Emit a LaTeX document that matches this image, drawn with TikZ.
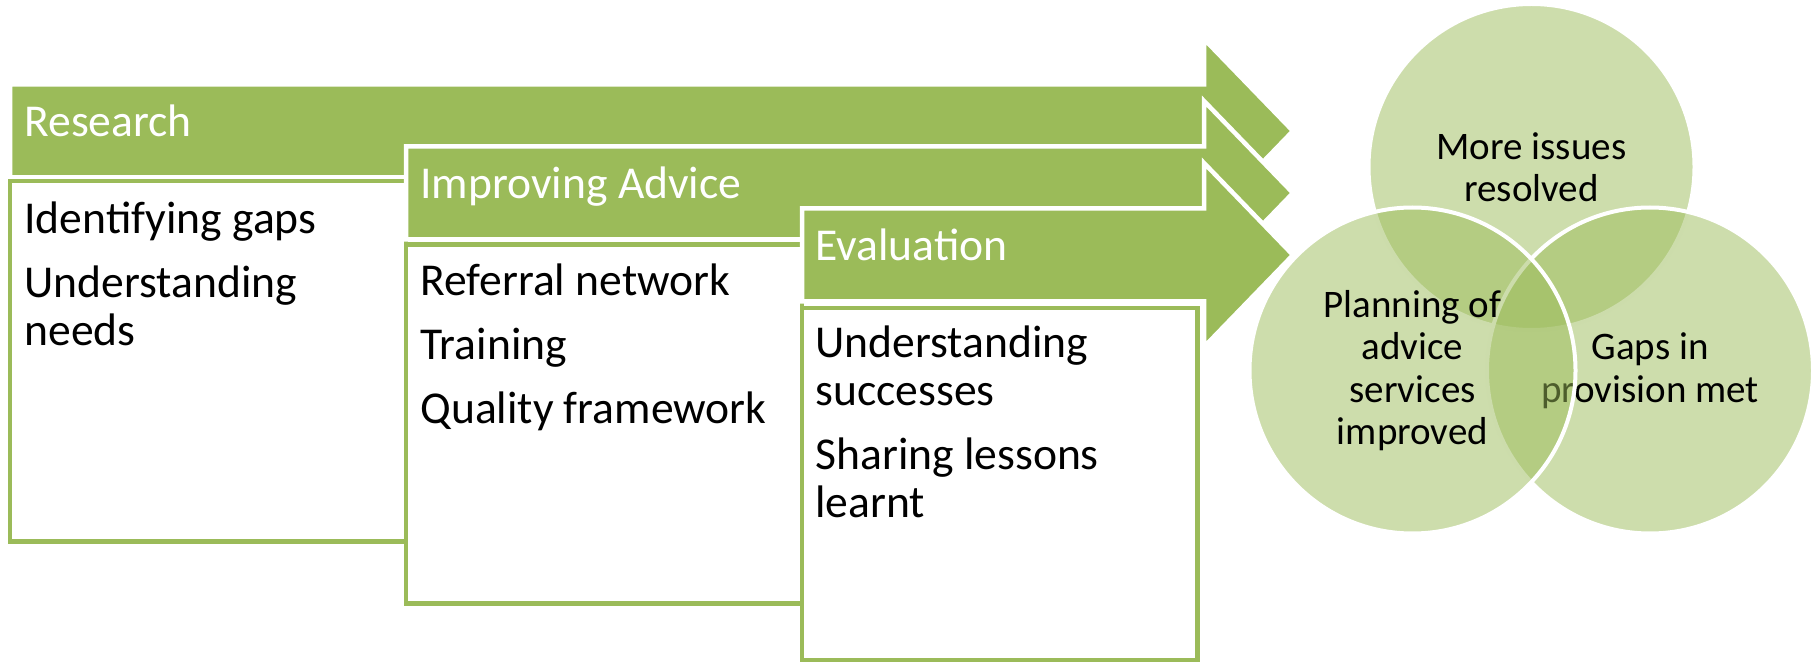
\documentclass[tikz,border=0pt]{standalone}
\usepackage{fontspec}
\setmainfont{Carlito}
\definecolor{leafgreen}{HTML}{9BBB59}

\begin{document}
\begin{tikzpicture}[x=0.5pt, y=-0.5pt,
  bar/.style={fill=leafgreen, draw=white, line width=2.25pt},
  box/.style={fill=white, draw=leafgreen, line width=2.25pt},
  head/.style={anchor=base west, inner sep=0pt, text=white, font=\fontsize{22.8}{24}\selectfont},
  item/.style={anchor=base west, inner sep=0pt, align=left, font=\fontsize{22.8}{24}\selectfont},
  venn/.style={circle, minimum size=163pt, inner sep=0pt, draw=white, line width=2pt,
    fill=leafgreen, fill opacity=0.5, text opacity=1, align=center,
    font=\fontsize{19.5}{21.25}\selectfont}]
  \useasboundingbox (0, 0) rectangle (1820, 663);
  % research (items placed by their last line)
  \draw[bar] (10, 84.5) -- (1204, 84.5) -- (1204, 39) -- (1293, 131) -- (1204, 223) -- (1204, 177.5) -- (10, 177.5) -- cycle;
  \node[head] (research) at (24, 137) {Research};
  \draw[box] (10, 181) rectangle (406, 541.5);
  \node[item] (researchitems) at (24, 345) {Identifying gaps\\[8pt]Understanding\\needs};
  % improving advice
  \draw[bar] (406, 146.5) -- (1204, 146.5) -- (1204, 101) -- (1293, 193) -- (1204, 285) -- (1204, 239.5) -- (406, 239.5) -- cycle;
  \node[head] (advice) at (420, 199) {Improving Advice};
  \draw[box] (406, 244.5) rectangle (802, 603.5);
  \node[item] (adviceitems) at (420, 423) {Referral network\\[8pt]Training\\[8pt]Quality framework};
  % evaluation
  \draw[bar] (802, 208.5) -- (1204, 208.5) -- (1204, 163) -- (1293, 255) -- (1204, 347) -- (1204, 301.5) -- (802, 301.5) -- cycle;
  \node[head] (evaluation) at (815, 261) {Evaluation};
  \draw[box] (802, 308) rectangle (1197.5, 660);
  \node[item] (evaluationitems) at (815, 517) {Understanding\\successes\\[8pt]Sharing lessons\\learnt};
  % outcomes
  \node[venn] (issues) at (1531.5, 167) {More issues\\resolved};
  \node[venn] (gaps) at (1650, 370.5) {Gaps in\\provision met};
  \node[venn] (planning) at (1412.5, 370.5) {Planning of\\advice\\services\\improved};
\end{tikzpicture}
\end{document}
